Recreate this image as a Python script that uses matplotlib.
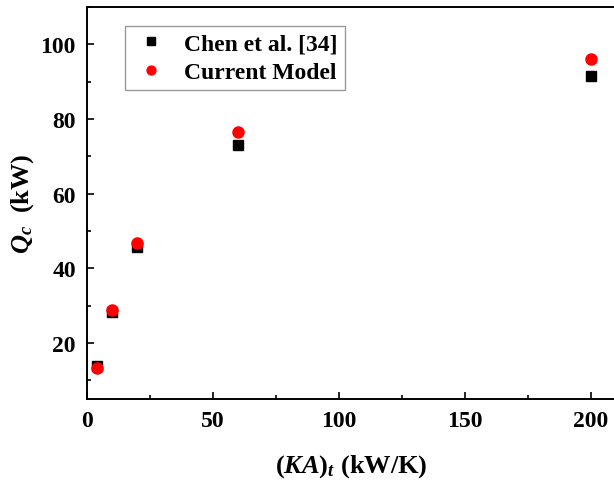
import matplotlib
matplotlib.use("Agg")
import matplotlib.pyplot as plt
from matplotlib.ticker import MultipleLocator

ka = [4, 10, 20, 60, 200]
chen = [13.8, 28.2, 45.7, 73.0, 91.6]
current = [13.2, 28.9, 46.8, 76.5, 96.1]

plt.rcParams['font.family'] = ['Liberation Serif']
plt.rcParams['font.weight'] = 'bold'
plt.rcParams['mathtext.fontset'] = 'custom'
plt.rcParams['mathtext.rm'] = 'Liberation Serif:bold'
plt.rcParams['mathtext.it'] = 'Liberation Serif:italic:bold'
plt.rcParams['mathtext.bf'] = 'Liberation Serif:bold'

fig = plt.figure(figsize=(6.14, 4.81), dpi=100)
ax = fig.add_axes([87/614, 81/481, 529/614, 392/481])

ax.plot(ka, chen, 's', color='black', markersize=7, label='Chen et al. [34]')
ax.plot(ka, current, 'o', color='red', markersize=8, label='Current Model')

ax.set_xlim(0, 210)
ax.set_ylim(5, 110)
ax.xaxis.set_major_locator(MultipleLocator(50))
ax.xaxis.set_minor_locator(MultipleLocator(25))
ax.yaxis.set_major_locator(MultipleLocator(20))
ax.yaxis.set_minor_locator(MultipleLocator(10))
ax.set_yticks([20, 40, 60, 80, 100])
ax.tick_params(which='both', direction='in', width=1.2, labelsize=17, top=False, right=False)
ax.tick_params(which='major', length=5, pad=8)
ax.tick_params(which='minor', length=3)
for lab in ax.get_xticklabels() + ax.get_yticklabels():
    lab.set_fontweight('bold')
for s in ax.spines.values():
    s.set_linewidth(1.4)

ax.set_xlabel(r'$(\mathit{KA})_{\mathit{t}}$ (kW/K)', fontsize=19, fontweight='bold', labelpad=15)
ax.set_ylabel(r'$\mathit{Q}_{\mathit{c}}$  (kW)', fontsize=19, fontweight='bold', labelpad=3)

leg = ax.legend(loc='upper left', bbox_to_anchor=((125-87)/529, (400-27)/392), borderaxespad=0,
                fontsize=17, frameon=True, fancybox=False, edgecolor='gray',
                handletextpad=0.6, borderpad=0.3, labelspacing=0.3,
                markerscale=0.8, handlelength=1.6)
leg.get_frame().set_linewidth(1.0)

fig.savefig('out.png', dpi=100)
